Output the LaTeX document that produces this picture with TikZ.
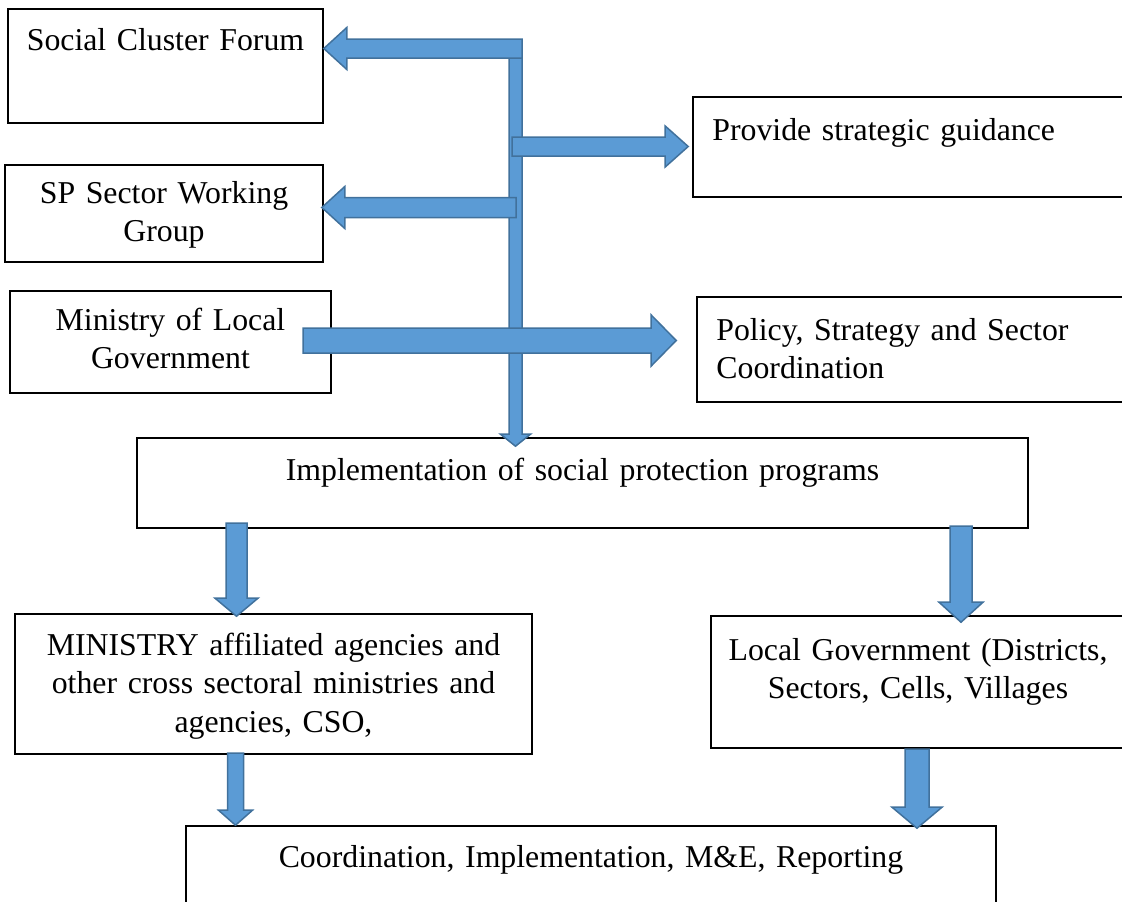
\documentclass[tikz,border=0pt]{standalone}
\usepackage{fontspec}
\setmainfont{Liberation Serif}
\usetikzlibrary{calc}
\definecolor{arrowfill}{HTML}{5B9BD5}
\definecolor{arrowline}{HTML}{41719C}

% block arrow: from, to, half shaft width, half head width, head length
\newcommand{\blockarrow}[5]{%
  \draw[blockarr] let \p1=($#2-#1$), \n1={veclen(\x1,\y1)}, \n2={atan2(\y1,\x1)} in
    [shift={#1}, rotate=\n2] (0pt,-#3pt) -- ({\n1-#5pt},-#3pt) -- ({\n1-#5pt},-#4pt)
    -- ({\n1+0pt},0pt) -- ({\n1-#5pt},#4pt) -- ({\n1-#5pt},#3pt) -- (0pt,#3pt) -- cycle;}

\begin{document}
\begin{tikzpicture}[x=1pt,y=-1pt]
	\tikzstyle{box}=[draw, rectangle, line width=1.6pt, inner sep=0pt]
	\tikzstyle{txt}=[font=\fontsize{31.8pt}{38.5pt}\selectfont, inner sep=0pt, text width=800pt, align=center]
	\tikzstyle{blockarr}=[fill=arrowfill, draw=arrowline, line width=1.5pt, line join=miter]

	\useasboundingbox (0,0) rectangle (1122,902);

	\node[box, minimum width=315pt, minimum height=114pt,
		label={[txt, anchor=base, yshift=-42pt]north:{Social Cluster Forum}}] (social) at (165.5,66) {};
	\node[box, minimum width=437pt, minimum height=100pt,
		label={[txt, text width=400pt, align=left, anchor=base west, xshift=20pt, yshift=-44pt]north west:{Provide strategic guidance}}] (guidance) at (911.5,147) {};
	\node[box, minimum width=318pt, minimum height=97pt,
		label={[txt, anchor=base, yshift=-39pt]north:{SP Sector Working\\Group}}] (sp) at (164,213.5) {};
	\node[box, minimum width=321pt, minimum height=102pt,
		label={[txt, anchor=base, yshift=-40pt]north:{Ministry of Local\\Government}}] (minlg) at (170.5,342) {};
	\node[box, minimum width=433pt, minimum height=105pt,
		label={[txt, text width=400pt, align=left, anchor=base west, xshift=20pt, yshift=-44pt]north west:{Policy, Strategy and Sector\\Coordination}}] (policy) at (913.5,349.5) {};
	\node[box, minimum width=891pt, minimum height=90pt,
		label={[txt, anchor=base, yshift=-43pt]north:{Implementation of social protection programs}}] (impl) at (582.5,483) {};
	\node[box, minimum width=517pt, minimum height=140pt,
		label={[txt, anchor=base, yshift=-42pt]north:{MINISTRY affiliated agencies and\\other cross sectoral ministries and\\agencies, CSO,}}] (agencies) at (273.5,684) {};
	\node[box, minimum width=414pt, minimum height=132pt,
		label={[txt, anchor=base, yshift=-45pt]north:{Local Government (Districts,\\Sectors, Cells, Villages}}] (localgov) at (918,682) {};
	\node[box, minimum width=810pt, minimum height=84pt,
		label={[txt, anchor=base, yshift=-42pt]north:{Coordination, Implementation, M\&E, Reporting}}] (coord) at (591,868) {};

	% arrow tails
	\coordinate (bend) at (522,48.5);
	\coordinate (trunktop) at (515.5,58);
	\coordinate (guidestart) at (512,146.5);
	\coordinate (wgstart) at (516,207.5);
	\coordinate (mlgstart) at (303,340.5);
	\coordinate (agstart) at (236.5,523);
	\coordinate (lgstart) at (961,526);
	\coordinate (agout) at (235.5,753);
	\coordinate (lgout) at (917,749);

	% arrow tips
	\path (impl.north -| trunktop) ++(0,9) coordinate (trunktip);
	\path (bend -| social.east) coordinate (clusterend);
	\path (guidestart -| guidance.west) ++(-4,0) coordinate (guideend);
	\path (wgstart -| sp.east) ++(-2,0) coordinate (wgend);
	\path (mlgstart -| policy.west) ++(-20,0) coordinate (mlgend);
	\path (agstart |- agencies.north) ++(0,3) coordinate (agend);
	\path (lgstart |- localgov.north) ++(0,7) coordinate (lgend);
	\path (agout |- coord.north) coordinate (agoutend);
	\path (lgout |- coord.north) ++(0,3) coordinate (lgoutend);

	\blockarrow{(trunktop)}{(trunktip)}{6.5}{15}{12}
	\blockarrow{(bend)}{(clusterend)}{9.5}{21}{23}
	\blockarrow{(guidestart)}{(guideend)}{9.5}{20.5}{23}
	\blockarrow{(wgstart)}{(wgend)}{10}{21}{23}
	\blockarrow{(mlgstart)}{(mlgend)}{12.5}{25.5}{25}
	\blockarrow{(agstart)}{(agend)}{10.5}{21.5}{18}
	\blockarrow{(lgstart)}{(lgend)}{11}{22}{20}
	\blockarrow{(agout)}{(agoutend)}{8}{17}{15}
	\blockarrow{(lgout)}{(lgoutend)}{12}{25}{21}
\end{tikzpicture}
\end{document}
